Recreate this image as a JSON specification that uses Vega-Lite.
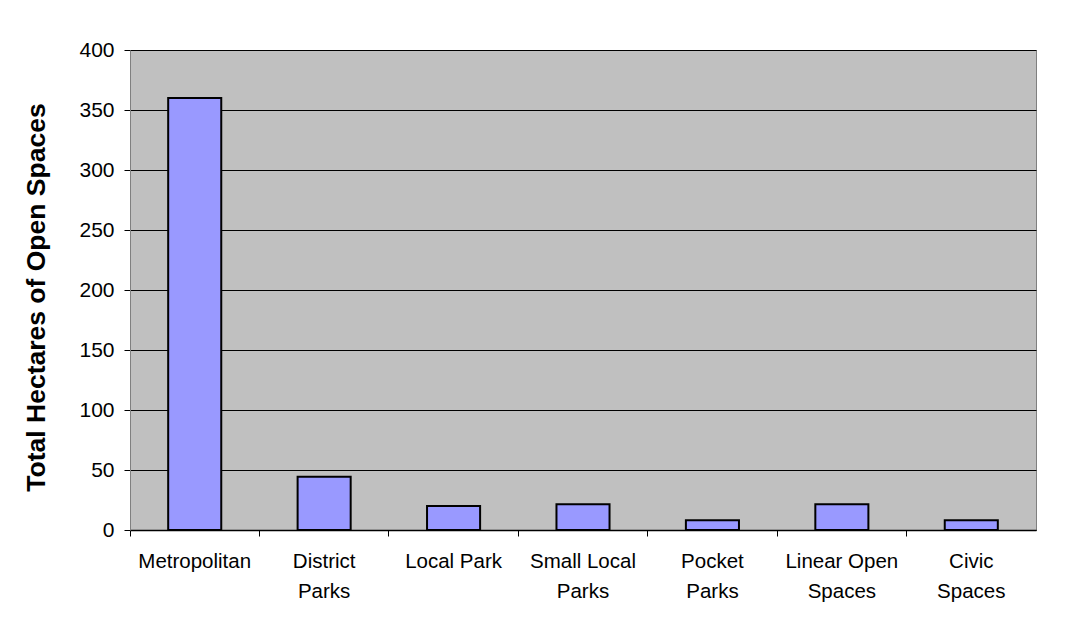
{
  "$schema": "https://vega.github.io/schema/vega-lite/v6.json",
  "autosize": "none",
  "width": 906,
  "height": 480,
  "padding": {"left": 130, "top": 50, "right": 45, "bottom": 101},
  "background": "white",
  "config": {
    "font": "Liberation Sans",
    "view": {"fill": "#c0c0c0", "stroke": "#808080", "strokeWidth": 1}
  },
  "data": {
    "values": [
      {"category": "Metropolitan", "hectares": 360},
      {"category": "District Parks", "hectares": 44.4},
      {"category": "Local Park", "hectares": 20},
      {"category": "Small Local Parks", "hectares": 21.5},
      {"category": "Pocket Parks", "hectares": 8.2},
      {"category": "Linear Open Spaces", "hectares": 21.5},
      {"category": "Civic Spaces", "hectares": 8.2}
    ]
  },
  "mark": {"type": "bar", "fill": "#9999ff", "stroke": "#000000", "strokeWidth": 2, "width": {"band": 0.41}},
  "encoding": {
    "x": {
      "field": "category",
      "type": "nominal",
      "sort": null,
      "scale": {"paddingInner": 0, "paddingOuter": 0},
      "axis": {
        "title": null,
        "labelAngle": 0,
        "labelFontSize": 20.5,
        "labelColor": "#000000",
        "labelPadding": 25,
        "labelLineHeight": 30,
        "labelBaseline": "middle",
        "bandPosition": 0,
        "ticks": true,
        "tickSize": 6,
        "tickColor": "#000000",
        "domainColor": "#000000",
        "domainWidth": 1.5,
        "grid": false,
        "labelExpr": "datum.label == 'District Parks' ? ['District', 'Parks'] : datum.label == 'Small Local Parks' ? ['Small Local', 'Parks'] : datum.label == 'Pocket Parks' ? ['Pocket', 'Parks'] : datum.label == 'Linear Open Spaces' ? ['Linear Open', 'Spaces'] : datum.label == 'Civic Spaces' ? ['Civic', 'Spaces'] : datum.label"
      }
    },
    "y": {
      "field": "hectares",
      "type": "quantitative",
      "scale": {"domain": [0, 400], "nice": false},
      "axis": {
        "title": "Total Hectares of Open Spaces",
        "titleFontSize": 26.5,
        "titleFontWeight": "bold",
        "titleColor": "#000000",
        "titlePadding": 28,
        "titleY": 247,
        "values": [0, 50, 100, 150, 200, 250, 300, 350, 400],
        "labelFontSize": 21,
        "labelColor": "#000000",
        "labelPadding": 10,
        "tickSize": 6,
        "tickColor": "#000000",
        "domainColor": "#808080",
        "grid": true,
        "gridColor": "#000000",
        "gridOpacity": 1,
        "gridWidth": 1
      }
    }
  }
}
